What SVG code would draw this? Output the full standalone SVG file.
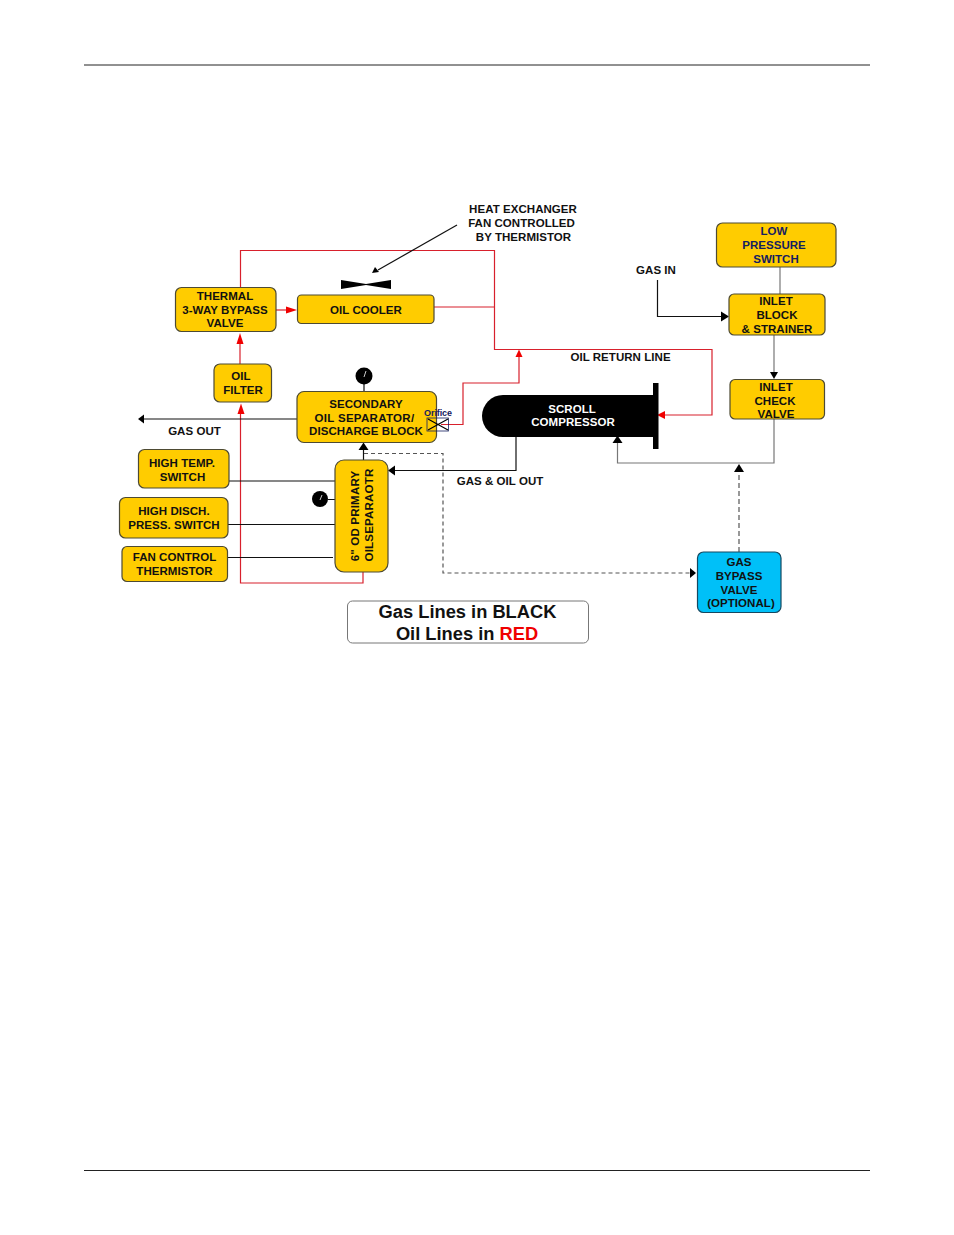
<svg xmlns="http://www.w3.org/2000/svg" width="954" height="1235" viewBox="0 0 954 1235">
<style>
text{font-family:"Liberation Sans",Arial,sans-serif;font-size:11.500px;fill:#111;text-anchor:middle;letter-spacing:.05px}
.b{font-weight:bold}
.y{fill:#ffcc00;stroke:#4d4a33;stroke-width:1.200}
.c{fill:#00c0f8;stroke:#154860;stroke-width:1.200}
.l{fill:none;stroke-width:1.200}
.k{stroke:#111}
.g{stroke:#777}
.r{stroke:#d8202c}
.d{stroke:#555;stroke-dasharray:4 3}
.ak{fill:#000}
.ar{fill:#f00000}
.n{fill:#142060}
</style>
<rect width="954" height="1235" fill="#fff"/>
<path d="M84 65H870M84 1170.500H870" stroke="#222" stroke-width="1" fill="none"/>
<g id="connectors">
<path class="l r" d="M240.500 287V250.500H494.500V349.500H712V415H662"/>
<path class="l r" d="M434 307H494.500"/>
<path class="l r" d="M441 424.500H463V383H519V356"/>
<path class="l r" d="M240.500 412V583H363V572"/>
<path class="l r" d="M240 364V342"/>
<path class="l r" d="M276 310H288"/>
<path class="l k" d="M297 419H144"/>
<path class="l k" d="M363.500 460V449"/>
<path class="l d" d="M364 453.500H443V573H690"/>
<path class="l k" d="M516 437V470.500H395"/>
<path class="l g" d="M774 419V463H617.500V442"/>
<path class="l d" style="stroke-dasharray:5 3" d="M739 552V473"/>
<path class="l g" d="M780 267V294"/>
<path class="l g" d="M774 335V372"/>
<path class="l k" d="M657.500 280V316.500H722"/>
<path class="l k" d="M457 225L378 270"/>
<path class="l k" d="M229 481H335M228 524.500H335M227 557.500H333"/>
<path class="l k" d="M364 384V391M328 499.500H335"/>
<path class="ar" d="M241 403.500L237.500 414H244.500Z"/>
<path class="ar" d="M240 333L236.500 344H243.500Z"/>
<path class="ar" d="M297 310L286 306.500V313.500Z"/>
<path class="ar" d="M519 349.500L515.500 357H522.500Z"/>
<path class="ar" d="M657 415L665 411V419Z"/>
<path class="ak" d="M138 419L144 414.500V423.500Z"/>
<path class="ak" d="M363.500 442.500L358.500 450H368.500Z"/>
<path class="ak" d="M388 470.500L395 465.500V475.500Z"/>
<path class="ak" d="M617.500 435.500L612.500 443H622.500Z"/>
<path class="ak" d="M739 464L734 472H744Z"/>
<path class="ak" d="M696 573L690 568V578Z"/>
<path class="ak" d="M729 316.500L721 311.500V321.500Z"/>
<path class="ak" d="M774 379L770 372H778Z"/>
<path class="ak" d="M372 273L375 267L379 272Z"/>
</g>
<g id="thermal-valve"><rect class="y" x="175.500" y="287.500" width="100.500" height="44" rx="6"/><text class="b" x="225" y="299.500">THERMAL</text><text class="b" x="225" y="313.500">3-WAY BYPASS</text><text class="b" x="225" y="327">VALVE</text></g>
<g id="oil-cooler"><rect class="y" x="297.500" y="295" width="136.500" height="28.500" rx="4"/><text class="b" x="366" y="313.500">OIL COOLER</text></g>
<g id="fan"><path class="ak" d="M341 280L366 284L391 280V289L366 285L341 289Z"/></g>
<g id="oil-filter"><rect class="y" x="214" y="364" width="57.500" height="38" rx="6"/><text class="b" x="241" y="380">OIL</text><text class="b" x="243" y="394">FILTER</text></g>
<g id="secondary-separator"><rect class="y" x="297" y="391.500" width="139.500" height="51" rx="7"/><text class="b" x="366" y="407.500">SECONDARY</text><text class="b" x="364.500" y="421.500" style="letter-spacing:.3px">OIL SEPARATOR/</text><text class="b" x="366" y="435">DISCHARGE BLOCK</text></g>
<g id="gauge-top"><circle class="ak" cx="364" cy="376" r="8.500"/><path d="M364 377L366 371" stroke="#fff" stroke-width=".8"/></g>
<g id="orifice"><rect x="427" y="418" width="21.500" height="13" fill="none" stroke="#142060" stroke-width=".8"/><path d="M428 430L448 419M428 419L448 430" stroke="#000" stroke-width="1.200" fill="none"/><text class="b n" x="438" y="415.500" style="font-size:9px;letter-spacing:-.1px">Orifice</text></g>
<g id="high-temp"><rect class="y" x="138.500" y="449.500" width="90.500" height="38.500" rx="6"/><text class="b" x="182" y="466.500">HIGH TEMP.</text><text class="b" x="182.500" y="480.500">SWITCH</text></g>
<g id="high-disch"><rect class="y" x="119.500" y="497.500" width="108.500" height="40.500" rx="6"/><text class="b" x="174" y="515">HIGH DISCH.</text><text class="b" x="174" y="529">PRESS. SWITCH</text></g>
<g id="fan-control"><rect class="y" x="122" y="546.500" width="105.500" height="35" rx="5"/><text class="b" x="174.500" y="561">FAN CONTROL</text><text class="b" x="174.500" y="575">THERMISTOR</text></g>
<g id="primary-separator"><rect class="y" x="335" y="460" width="53" height="112" rx="9"/><text class="b" transform="translate(359 516) rotate(-90)" style="letter-spacing:.2px">6" OD PRIMARY</text><text class="b" transform="translate(373 515) rotate(-90)" style="letter-spacing:.2px">OILSEPARAOTR</text></g>
<g id="gauge-left"><circle class="ak" cx="320" cy="499" r="8"/><path d="M320 500L322 495" stroke="#fff" stroke-width=".8"/></g>
<g id="compressor"><path class="ak" d="M653 395H503A21 21 0 0 0 503 437H653Z"/><rect class="ak" x="653" y="383" width="5.500" height="66"/><text class="b" x="572" y="413" style="fill:#fff">SCROLL</text><text class="b" x="573" y="426" style="fill:#fff">COMPRESSOR</text></g>
<g id="low-pressure"><rect class="y" x="716.500" y="223" width="119.500" height="44" rx="6"/><text class="b n" x="774" y="235">LOW</text><text class="b n" x="774" y="249">PRESSURE</text><text class="b n" x="776" y="263">SWITCH</text></g>
<g id="inlet-block"><rect class="y" x="729" y="294" width="96" height="41" rx="5"/><text class="b" x="776" y="305">INLET</text><text class="b" x="777" y="319">BLOCK</text><text class="b" x="777" y="332.500">&amp; STRAINER</text></g>
<g id="inlet-check"><rect class="y" x="730" y="379.500" width="94.500" height="39.500" rx="5"/><text class="b" x="776" y="391">INLET</text><text class="b" x="775" y="405">CHECK</text><text class="b" x="776" y="418">VALVE</text></g>
<g id="gas-bypass"><rect class="c" x="697.500" y="552" width="83.500" height="60.500" rx="6"/><text class="b" x="739" y="566">GAS</text><text class="b" x="739" y="580">BYPASS</text><text class="b" x="739" y="593.500">VALVE</text><text class="b" x="741" y="607">(OPTIONAL)</text></g>
<g id="legend"><rect x="347.500" y="601" width="241" height="42" rx="5" fill="#fff" stroke="#777" stroke-width="1"/><text class="b" x="467.500" y="617.500" style="font-size:18.300px;letter-spacing:0">Gas Lines in BLACK</text><text class="b" x="467" y="639.500" style="font-size:18.300px;letter-spacing:0">Oil Lines in <tspan fill="#f00000">RED</tspan></text></g>
<g id="labels">
<text class="b" x="523" y="213">HEAT EXCHANGER</text>
<text class="b" x="521.500" y="227">FAN CONTROLLED</text>
<text class="b" x="523.500" y="241">BY THERMISTOR</text>
<text class="b" x="656" y="274">GAS IN</text>
<text class="b" x="620.500" y="361">OIL RETURN LINE</text>
<text class="b" x="194.500" y="435">GAS OUT</text>
<text class="b" x="500" y="485">GAS &amp; OIL OUT</text>
</g>
</svg>
